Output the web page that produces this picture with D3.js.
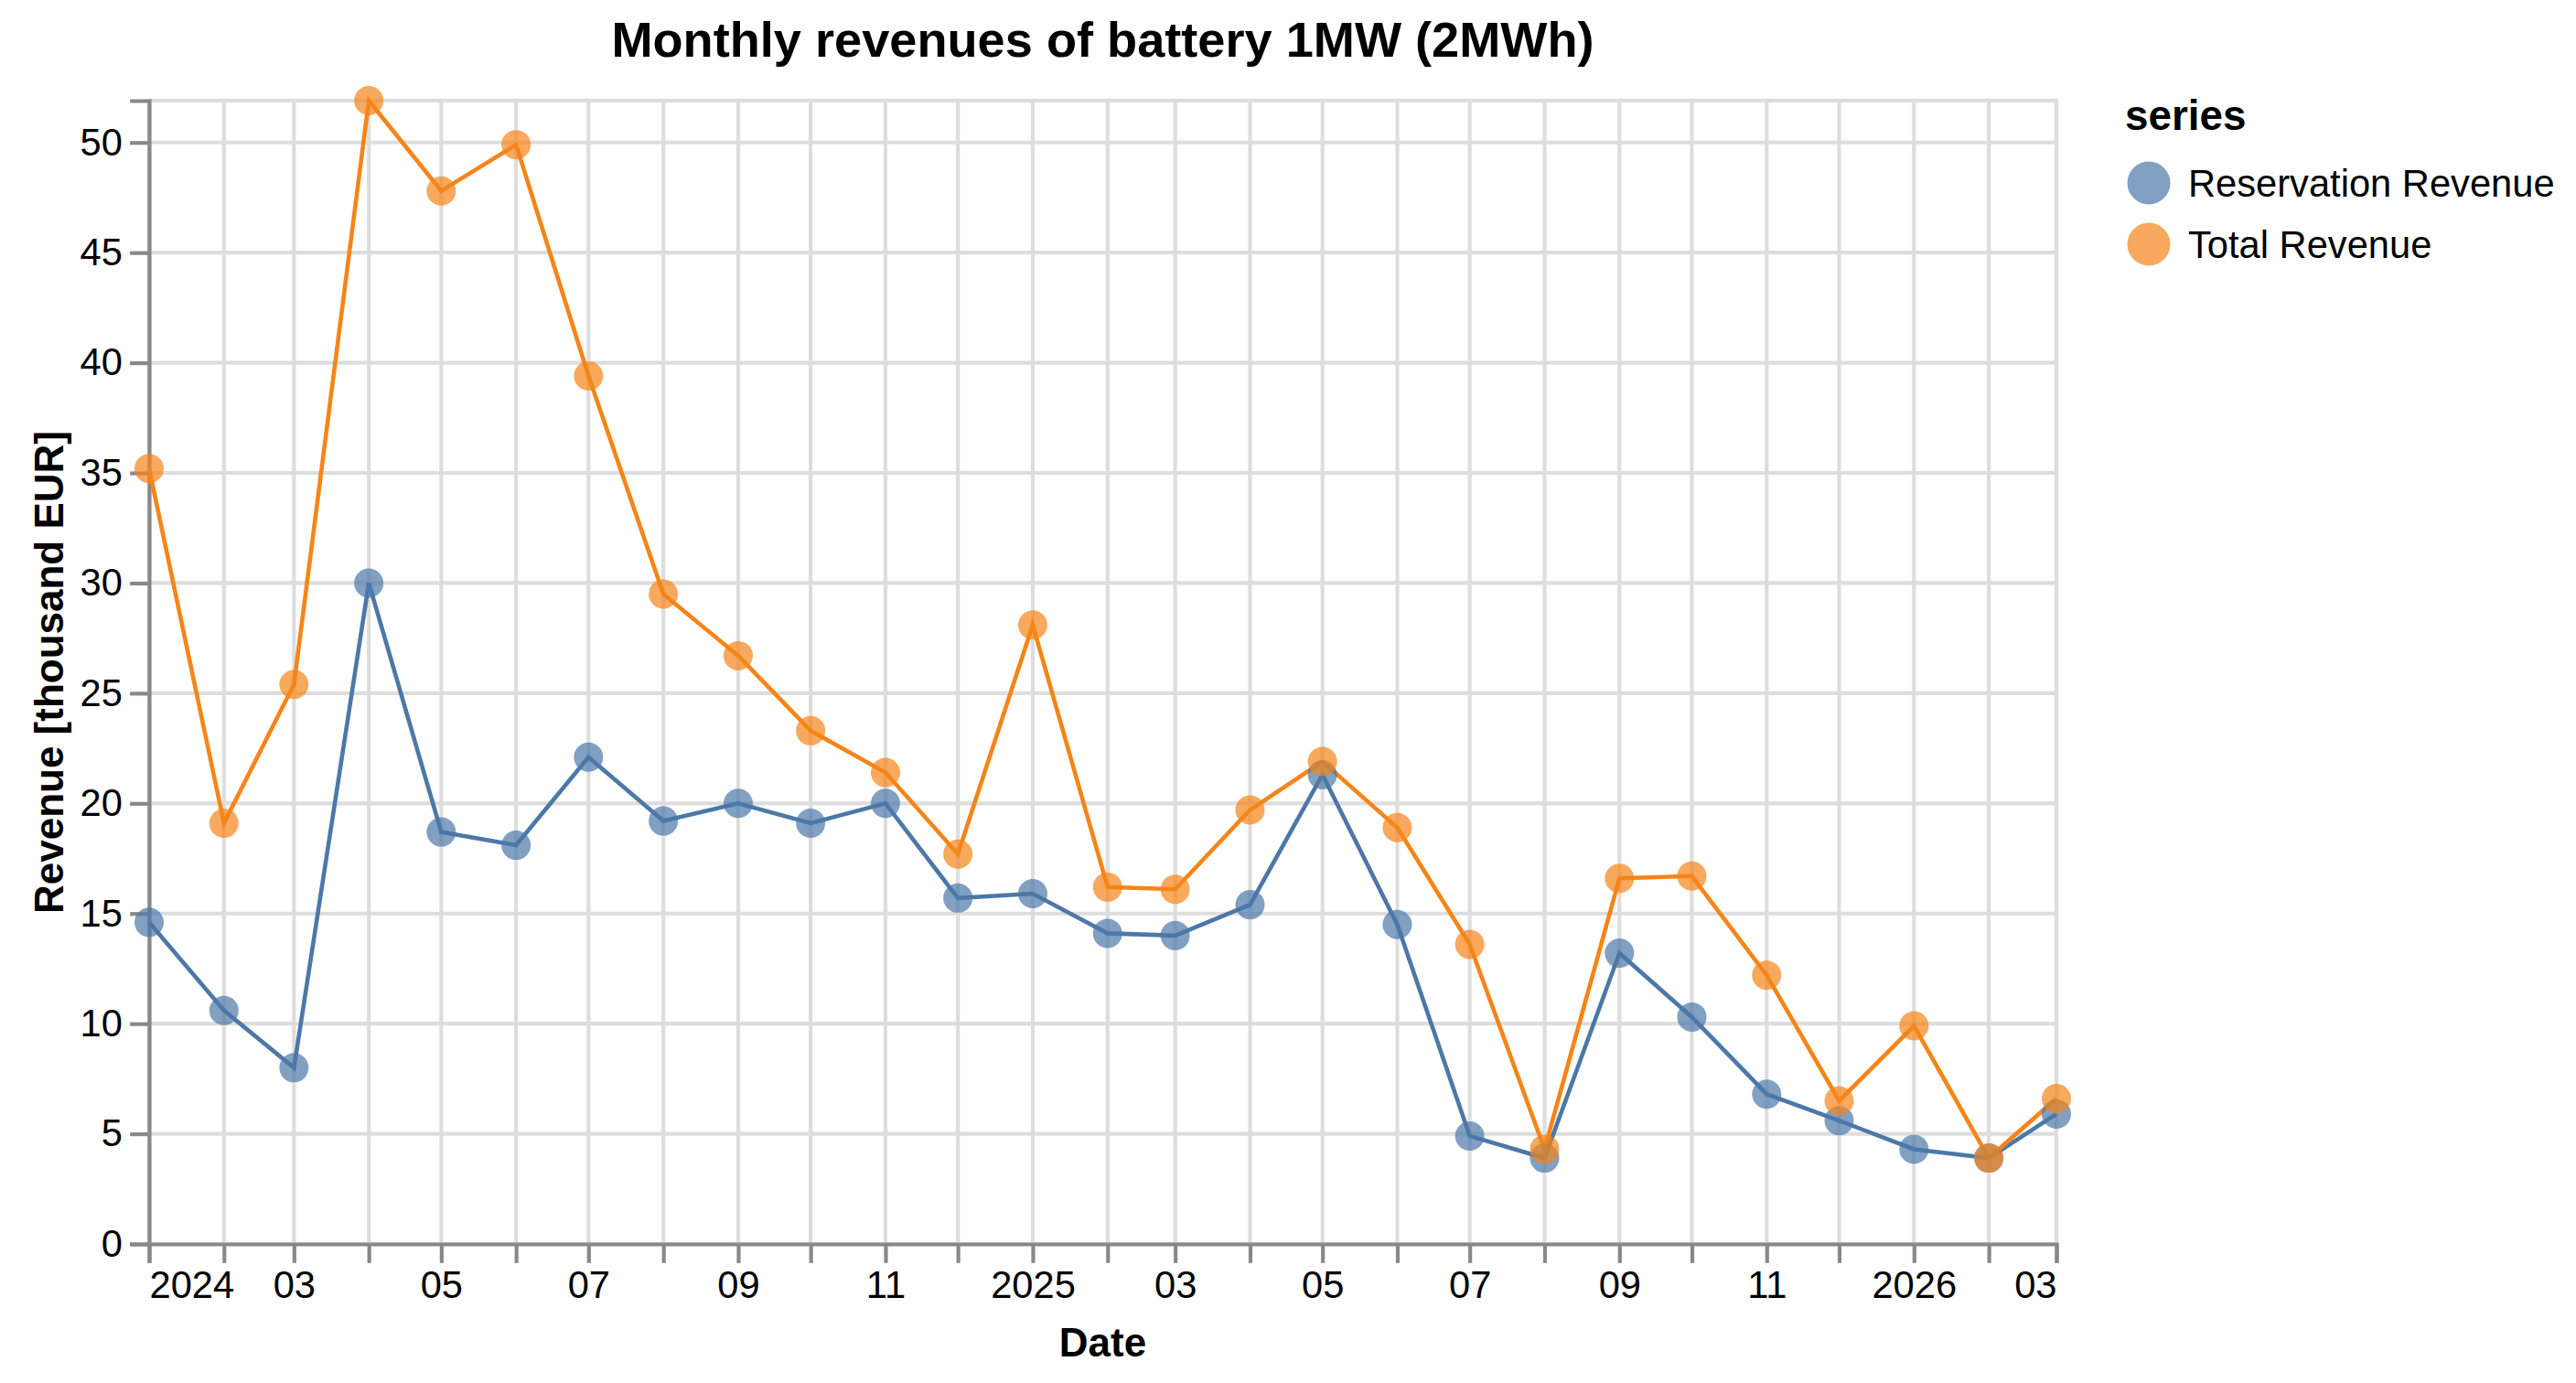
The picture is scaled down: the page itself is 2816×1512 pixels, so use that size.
<!DOCTYPE html>
<html>
<head>
<meta charset="utf-8">
<script src="https://cdn.jsdelivr.net/npm/d3@7"></script>
<style>
  body { margin: 0; background: #fff; }
  text { font-family: "Liberation Sans", Arial, Helvetica, sans-serif; }
</style>
</head>
<body>
<svg id="canvas" width="2816" height="1512"></svg>
<script>
// data (thousand EUR, first day of each month)
const months = [
  '2024-01', '2024-02', '2024-03', '2024-04', '2024-05', '2024-06',
  '2024-07', '2024-08', '2024-09', '2024-10', '2024-11', '2024-12',
  '2025-01', '2025-02', '2025-03', '2025-04', '2025-05', '2025-06',
  '2025-07', '2025-08', '2025-09', '2025-10', '2025-11', '2025-12',
  '2026-01', '2026-02', '2026-03'
]
const reservationRevenue = [
  14.6, 10.6, 8.0, 30.0, 18.7, 18.1, 22.1, 19.2, 20.0, 19.1, 20.0, 15.7,
  15.9, 14.1, 14.0, 15.4, 21.3, 14.5, 4.9, 3.9, 13.2, 10.3, 6.8, 5.6,
  4.3, 3.9, 5.9
]
const totalRevenue = [
  35.2, 19.1, 25.4, 51.9, 47.8, 49.9, 39.4, 29.5, 26.7, 23.3, 21.4, 17.7,
  28.1, 16.2, 16.1, 19.7, 21.9, 18.9, 13.6, 4.3, 16.6, 16.7, 12.2, 6.5,
  9.9, 3.9, 6.6
]
const seriesNames = ['Reservation Revenue', 'Total Revenue']
const seriesColors = ['#4c78a8', '#f58518']
const yTicks = [0, 5, 10, 15, 20, 25, 30, 35, 40, 45, 50]

const S = 4.167 // scale of the original render
const margin = { left: 163, top: 110 }
const width = 2085
const height = 1250

const parseMonth = d3.utcParse('%Y-%m')
const dates = months.map(parseMonth)

let series = seriesNames.map((name, i) => {
  let vals = i === 0 ? reservationRevenue : totalRevenue
  return {
    name: name,
    color: seriesColors[i],
    points: dates.map((d, j) => ({ date: d, value: vals[j] }))
  }
})

let svg = d3.select('#canvas')
let g = svg.append('g').attr('transform', 'translate(' + margin.left + ',' + margin.top + ')')

let x = d3.scaleUtc().domain(d3.extent(dates)).range([0, width])
let y = d3.scaleLinear()
  .domain([0, d3.max(reservationRevenue.concat(totalRevenue))])
  .range([height, 0])

let monthTicks = x.ticks(d3.utcMonth.every(1))

// grid
g.append('g').selectAll('line')
  .data(monthTicks)
  .enter().append('line')
  .attr('x1', d => x(d)).attr('x2', d => x(d))
  .attr('y1', 0).attr('y2', height)
  .attr('stroke', '#ddd').attr('stroke-width', S)

g.append('g').selectAll('line')
  .data(yTicks)
  .enter().append('line')
  .attr('x1', 0).attr('x2', width)
  .attr('y1', d => y(d)).attr('y2', d => y(d))
  .attr('stroke', '#ddd').attr('stroke-width', S)

g.append('rect')
  .attr('width', width).attr('height', height)
  .attr('fill', 'none').attr('stroke', '#ddd').attr('stroke-width', S)

// x axis
let fmtYear = d3.utcFormat('%Y')
let fmtMonth = d3.utcFormat('%m')
let xAxis = d3.axisBottom(x)
  .tickValues(monthTicks)
  .tickSize(5 * S)
  .tickPadding(2 * S)
  .tickFormat((d, i) => {
    if (i % 2 !== 0) return ''
    return d.getUTCMonth() === 0 ? fmtYear(d) : fmtMonth(d)
  })

let xg = g.append('g')
  .attr('transform', 'translate(0,' + height + ')')
  .call(xAxis)
xg.select('.domain').attr('stroke', '#888').attr('stroke-width', S)
xg.selectAll('.tick line').attr('stroke', '#888').attr('stroke-width', S)
xg.selectAll('.tick text')
  .attr('fill', '#000')
  .style('font-size', (10 * S) + 'px')
  .attr('text-anchor', (d, i) => i === 0 ? 'start' : (i === monthTicks.length - 1 ? 'end' : 'middle'))

// y axis
let yg = g.append('g')
  .call(d3.axisLeft(y).tickValues(yTicks).tickSize(5 * S).tickPadding(2 * S))
yg.select('.domain').attr('stroke', '#888').attr('stroke-width', S)
yg.selectAll('.tick line').attr('stroke', '#888').attr('stroke-width', S)
yg.selectAll('.tick text')
  .attr('fill', '#000')
  .style('font-size', (10 * S) + 'px')

// lines
let line = d3.line()
  .x(d => x(d.date))
  .y(d => y(d.value))

g.append('g').selectAll('path')
  .data(series)
  .enter().append('path')
  .attr('d', d => line(d.points))
  .attr('fill', 'none')
  .attr('stroke', d => d.color)
  .attr('stroke-width', 4.6)

// points
series.forEach((s) => {
  g.append('g').selectAll('circle')
    .data(s.points)
    .enter().append('circle')
    .attr('cx', d => x(d.date))
    .attr('cy', d => y(d.value))
    .attr('r', 16)
    .attr('fill', s.color)
    .attr('fill-opacity', 0.7)
})

// titles
svg.append('text')
  .attr('x', margin.left + width / 2)
  .attr('y', 62)
  .attr('text-anchor', 'middle')
  .style('font-size', (13 * S) + 'px')
  .style('font-weight', 'bold')
  .text('Monthly revenues of battery 1MW (2MWh)')

svg.append('text')
  .attr('x', margin.left + width / 2)
  .attr('y', 1483)
  .attr('text-anchor', 'middle')
  .style('font-size', '44px')
  .style('font-weight', 'bold')
  .text('Date')

svg.append('text')
  .attr('transform', 'translate(69,' + (margin.top + height / 2) + ') rotate(-90)')
  .attr('text-anchor', 'middle')
  .style('font-size', '44px')
  .style('font-weight', 'bold')
  .text('Revenue [thousand EUR]')

// legend
let legend = svg.append('g').attr('transform', 'translate(2323,0)')
legend.append('text')
  .attr('x', 0).attr('y', 142)
  .style('font-size', (11 * S) + 'px')
  .style('font-weight', 'bold')
  .text('series')

let entry = legend.selectAll('.entry')
  .data(series)
  .enter().append('g')
  .attr('class', 'entry')
  .attr('transform', (d, i) => 'translate(0,' + (200 + i * 67) + ')')
entry.append('circle')
  .attr('cx', 26).attr('cy', 0).attr('r', 23.5)
  .attr('fill', d => d.color).attr('fill-opacity', 0.7)
entry.append('text')
  .attr('x', 69).attr('y', 0)
  .attr('dy', '0.35em')
  .style('font-size', (10 * S) + 'px')
  .text(d => d.name)
</script>
</body>
</html>
